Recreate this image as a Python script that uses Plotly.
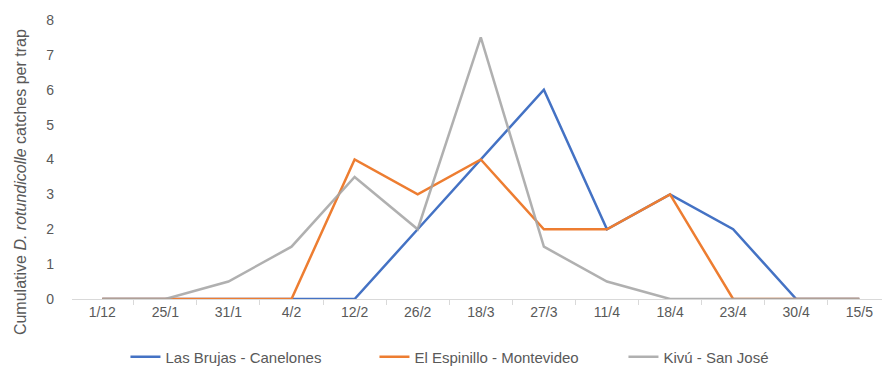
import plotly.graph_objects as go

categories = ["1/12", "25/1", "31/1", "4/2", "12/2", "26/2", "18/3", "27/3", "11/4", "18/4", "23/4", "30/4", "15/5"]
las_brujas = [0, 0, 0, 0, 0, 2, 4, 6, 2, 3, 2, 0, 0]
el_espinillo = [0, 0, 0, 0, 4, 3, 4, 2, 2, 3, 0, 0, 0]
kivu = [0, 0, 0.5, 1.5, 3.5, 2, 7.5, 1.5, 0.5, 0, 0, 0, 0]
y_ticks = [0, 1, 2, 3, 4, 5, 6, 7, 8]
y_title = "Cumulative <i>D. rotundicolle</i> catches per trap"

FONT = "Liberation Sans, Arial, sans-serif"
TXT = "#595959"

fig = go.Figure()
fig.add_trace(go.Scatter(x=categories, y=las_brujas, mode="lines", name="Las Brujas - Canelones",
                         line=dict(color="#4472C4", width=2.5)))
fig.add_trace(go.Scatter(x=categories, y=el_espinillo, mode="lines", name="El Espinillo - Montevideo",
                         line=dict(color="#ED7D31", width=2.5)))
fig.add_trace(go.Scatter(x=categories, y=kivu, mode="lines", name="Kivú - San José",
                         line=dict(color="rgba(165,165,165,0.88)", width=2.5)))

fig.update_layout(
    width=882, height=367,
    margin=dict(l=72, r=0, t=20, b=68),
    paper_bgcolor="white", plot_bgcolor="white",
    font=dict(family=FONT, size=14, color=TXT),
    showlegend=True,
    legend=dict(orientation="h", x=0.066, xanchor="left", yref="container", y=0.027, yanchor="middle",
                font=dict(family=FONT, size=15, color=TXT), entrywidth=204, entrywidthmode="pixels",
                tracegroupgap=0),
)
fig.update_xaxes(
    type="category", categoryorder="array", categoryarray=categories,
    range=[-0.48, 12.36],
    showline=True, linecolor="#D9D9D9", linewidth=1,
    ticks="outside", tickson="boundaries", ticklen=5, tickcolor="#D9D9D9",
    showgrid=False, zeroline=False,
    tickfont=dict(family=FONT, size=14, color=TXT),
)
fig.update_yaxes(
    range=[0, 8], tickvals=y_ticks, showgrid=False, zeroline=False, showline=False,
    ticklabelstandoff=17,
    tickfont=dict(family=FONT, size=14, color=TXT),
)
fig.add_annotation(text=y_title, xref="paper", yref="paper", x=-0.0642, y=0.419,
                   xanchor="center", yanchor="middle", textangle=-90, showarrow=False,
                   font=dict(family=FONT, size=16, color=TXT))
fig.write_html("out.html")
